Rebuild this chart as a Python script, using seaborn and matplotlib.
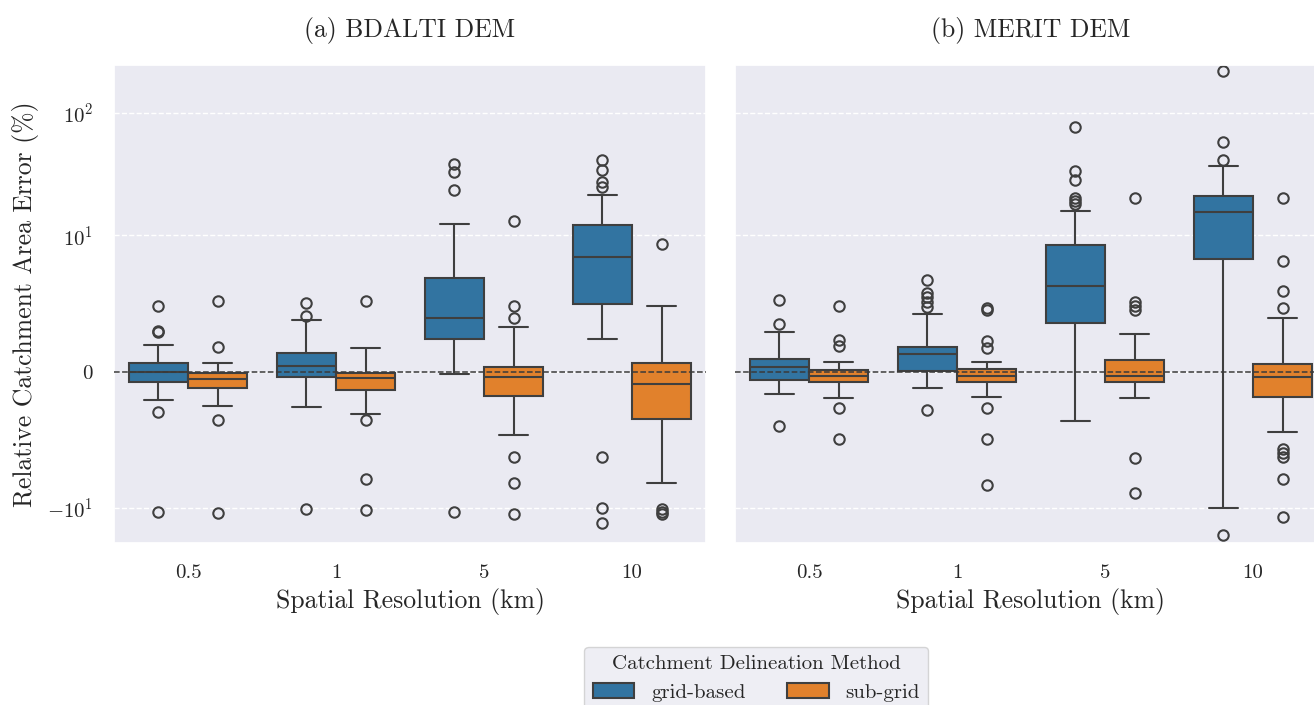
import numpy as np
import pandas as pd
import matplotlib
matplotlib.use("Agg")
import matplotlib.pyplot as plt
import seaborn as sns

# ---------------- data ----------------
categories = ["0.5", "1", "5", "10"]
methods = ["grid-based", "sub-grid"]
panel_titles = ["(a) BDALTI DEM", "(b) MERIT DEM"]

# (a) BDALTI DEM, grid-based
bd_grid_q1 = [-0.76, -0.37, 2.40, 4.97]
bd_grid_med = [0.00, 0.44, 3.92, 8.38]
bd_grid_q3 = [0.61, 1.35, 6.86, 12.2]
bd_grid_lo = [-2.08, -2.57, -0.20, 2.40]
bd_grid_hi = [1.96, 3.80, 12.3, 21.4]
bd_grid_out = [[4.78, 3.01, 2.94, -2.97, -10.8],
               [5.02, 4.05, -10.3],
               [38.5, 32.7, 23.3, -10.8],
               [41.5, 34.3, 27.1, 24.7, -6.25, -10.0, -13.3]]

# (a) BDALTI DEM, sub-grid
bd_sub_q1 = [-1.20, -1.35, -1.76, -3.48]
bd_sub_med = [-0.54, -0.49, -0.42, -0.91]
bd_sub_q3 = [-0.07, -0.07, 0.30, 0.61]
bd_sub_lo = [-2.50, -3.14, -4.66, -8.16]
bd_sub_hi = [0.61, 1.76, 3.25, 4.78]
bd_sub_out = [[5.15, 1.79, -3.55, -11.0],
              [5.15, -3.55, -7.89, -10.45],
              [13.2, 4.78, 3.92, -6.30, -8.16, -11.27],
              [9.36, -10.3, -10.8, -11.3]]

# (b) MERIT DEM, grid-based
me_grid_q1 = [-0.61, 0.03, 3.58, 8.26]
me_grid_med = [0.37, 1.27, 6.32, 15.4]
me_grid_q3 = [0.93, 1.84, 9.26, 20.8]
me_grid_lo = [-1.67, -1.18, -3.63, -10.0]
me_grid_hi = [2.94, 4.24, 15.7, 36.6]
me_grid_out = [[5.27, 3.48, -3.97],
               [6.69, 5.76, 5.47, 5.10, 4.73, -2.85],
               [76.2, 33.4, 28.1, 20.2, 19.0, 18.2],
               [218.8, 57.9, 41.0, -16.7]]

# (b) MERIT DEM, sub-grid
me_sub_q1 = [-0.76, -0.76, -0.76, -1.89]
me_sub_med = [-0.32, -0.32, -0.32, -0.42]
me_sub_q3 = [0.12, 0.17, 0.86, 0.56]
me_sub_lo = [-1.91, -1.84, -1.96, -4.41]
me_sub_hi = [0.69, 0.69, 2.77, 3.90]
me_sub_out = [[4.85, 2.33, 1.91, -2.65, -4.95],
              [4.66, 4.49, 2.28, 1.72, -2.65, -4.95, -8.36],
              [20.2, 5.10, 4.78, 4.53, -6.32, -8.90],
              [20.2, 8.11, 5.93, 4.66, -5.65, -5.95, -6.25, -7.92, -11.8]]


def build_rows(q1, med, q3, lo, hi, out, method, rep=30):
    rows = []
    for i, cat in enumerate(categories):
        vals = list(out[i]) + [lo[i], hi[i]] + [q1[i]] * rep + [med[i]] * rep + [q3[i]] * rep
        rows += [(cat, method, v) for v in vals]
    return rows


df_bd = pd.DataFrame(
    build_rows(bd_grid_q1, bd_grid_med, bd_grid_q3, bd_grid_lo, bd_grid_hi, bd_grid_out, methods[0])
    + build_rows(bd_sub_q1, bd_sub_med, bd_sub_q3, bd_sub_lo, bd_sub_hi, bd_sub_out, methods[1]),
    columns=["res", "method", "err"])
df_me = pd.DataFrame(
    build_rows(me_grid_q1, me_grid_med, me_grid_q3, me_grid_lo, me_grid_hi, me_grid_out, methods[0])
    + build_rows(me_sub_q1, me_sub_med, me_sub_q3, me_sub_lo, me_sub_hi, me_sub_out, methods[1]),
    columns=["res", "method", "err"])

# ---------------- style ----------------
sns.set_theme(style="darkgrid")
plt.rcParams["font.family"] = ["cmr10", "DejaVu Serif"]
plt.rcParams["mathtext.fontset"] = "cm"
plt.rcParams["axes.formatter.use_mathtext"] = True
plt.rcParams["axes.unicode_minus"] = True

W, H = 1314, 705
fig = plt.figure(figsize=(W / 100, H / 100), dpi=100)
ax_top, ax_bot = 64.5, 543.3
axA = fig.add_axes([114 / W, (H - ax_bot) / H, 592 / W, (ax_bot - ax_top) / H])
axB = fig.add_axes([735 / W, (H - ax_bot) / H, 592 / W, (ax_bot - ax_top) / H])

flier = dict(marker="o", markersize=7.5, markeredgewidth=1.5)

for k, (ax, df, title) in enumerate(zip([axA, axB], [df_bd, df_me], panel_titles)):
    sns.boxplot(data=df, x="res", y="err", hue="method", order=categories,
                hue_order=methods, palette="tab10", linewidth=1.5,
                flierprops=flier, ax=ax, legend=(k == 0))
    ax.set_yscale("symlog", linthresh=10)
    ax.set_ylim(-19.5, 248)
    ax.set_xlim(-0.5, 3.5)
    ax.axhline(0, color="#3a3a3a", ls="--", lw=1.1, zorder=5)
    ax.xaxis.grid(False)
    ax.yaxis.grid(True, linestyle="--", color="white", lw=1.0)
    ax.tick_params(axis="both", length=0, pad=15, labelsize=15)
    ax.set_title(title, fontsize=18.5, pad=20)
    ax.set_xlabel("Spatial Resolution (km)", fontsize=18.5, labelpad=4)
    if k == 0:
        ax.set_ylabel("Relative Catchment Area Error (%)", fontsize=18.5, labelpad=6)
    else:
        ax.set_ylabel("")
        ax.tick_params(axis="y", labelleft=False)

handles, labels = axA.get_legend_handles_labels()
axA.get_legend().remove()
fig.legend(handles, labels, title="Catchment Delineation Method", loc="upper center",
           bbox_to_anchor=(756.3 / W, (H - 646.7) / H), borderaxespad=0, ncol=2,
           fontsize=15, title_fontsize=15, frameon=True)

fig.savefig("out.png", dpi=100)
